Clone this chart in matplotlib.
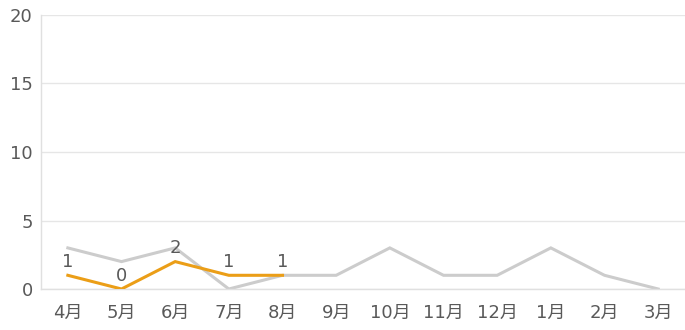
import matplotlib
matplotlib.use("Agg")
import matplotlib.pyplot as plt

plt.rcParams['font.family'] = ['DejaVu Sans', 'Noto Sans CJK JP']

months = ["4月", "5月", "6月", "7月", "8月", "9月", "10月", "11月", "12月", "1月", "2月", "3月"]
prev_year = [3, 2, 3, 0, 1, 1, 3, 1, 1, 3, 1, 0]
this_year = [1, 0, 2, 1, 1]
yticks = [0, 5, 10, 15, 20]

fig = plt.figure(figsize=(6.85, 3.3), dpi=100)
ax = fig.add_axes([41/685, 41/330, 644/685, 274/330])

x_prev = list(range(len(prev_year)))
x_this = list(range(len(this_year)))
ax.plot(x_prev, prev_year, color="#cccccc", lw=2.2, solid_joinstyle="miter", zorder=2)
ax.plot(x_this, this_year, color="#eb9e17", lw=2.2, solid_joinstyle="miter", zorder=3)
for xi, v in zip(x_this, this_year):
    ax.annotate(str(v), (xi, v), xytext=(0, 3), textcoords="offset points",
                ha="center", va="bottom", fontsize=13, color="#595959")

ax.set_xlim(-0.5, len(months) - 0.5)
ax.set_ylim(0, 20)
ax.set_yticks(yticks)
ax.set_xticks(x_prev)
ax.set_xticklabels(months)
ax.grid(axis="y", color="#e6e6e6", lw=1)
ax.set_axisbelow(True)
for s in ["top", "right"]:
    ax.spines[s].set_visible(False)
for s in ["left", "bottom"]:
    ax.spines[s].set_color("#e0e0e0")
    ax.spines[s].set_linewidth(1)
ax.tick_params(axis="both", length=0, labelsize=13, colors="#595959")
ax.tick_params(axis="x", pad=10.5)
ax.tick_params(axis="y", pad=6)

fig.savefig("out.png", dpi=100)
